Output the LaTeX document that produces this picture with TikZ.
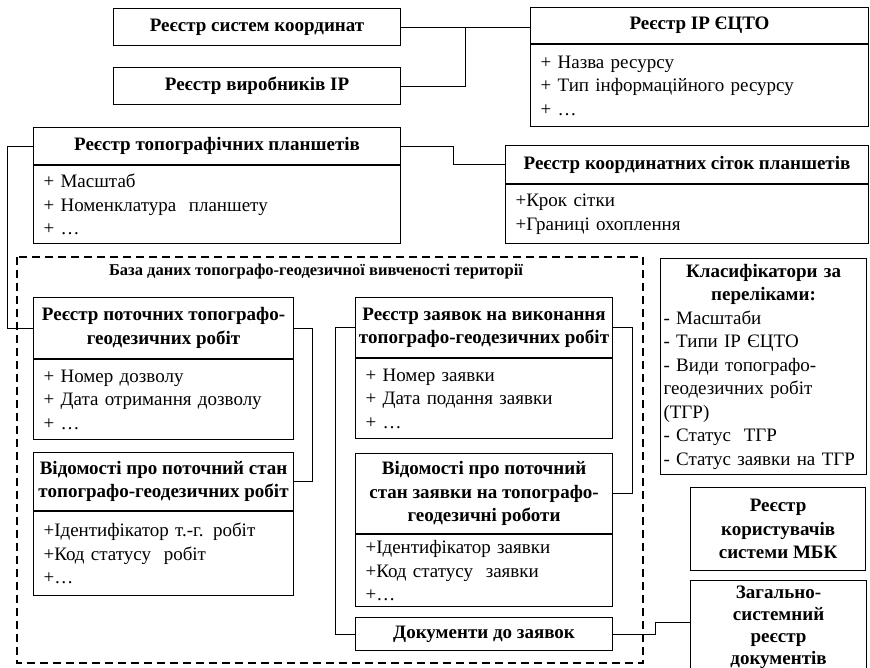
\documentclass[tikz,border=0pt]{standalone}
\usepackage{fontspec}
\setmainfont{Liberation Serif}
\newcommand{\boxfont}{\fontsize{19}{23.5}\selectfont}
\tikzset{
    head/.style = {
    	draw,
    	line width=1.1pt,
    	anchor=north west,
    	font=\boxfont\bfseries,
    	align=center,
    	inner sep=0pt
    },
    body/.style = {
    	draw,
    	line width=1.1pt,
    	anchor=north west,
    	font=\boxfont,
    	align=left,
    	inner xsep=10pt,
    	inner ysep=0pt,
    	text width=#1
    },
    link/.style = {
    	line width=0.8pt,
    	black
    },
    base/.style = {
    	line width=1.3pt,
    	dash pattern=on 8pt off 5pt
    }
}

\begin{document}
\begin{tikzpicture}[x=1pt, y=-1pt]

	\useasboundingbox (0,0) rectangle (870,667);

	% Coordenadas de las cajas
	\coordinate (SK) at (113,8);
	\coordinate (VR) at (113,67);
	\coordinate (IR) at (530,7);
	\coordinate (TP) at (33,127);
	\coordinate (KS) at (505,145);
	\coordinate (PR) at (33,297);
	\coordinate (VP) at (33,452);
	\coordinate (ZR) at (355,297);
	\coordinate (VZ) at (355,453);
	\coordinate (DZ) at (355,617);
	\coordinate (KL) at (660,258);
	\coordinate (KM) at (690,487);
	\coordinate (ZD) at (690,580);

	% Base de datos
	\coordinate (dbA) at (17,257);
	\coordinate (dbB) at (643,663);
	\draw[base] (dbA) rectangle (dbB);
	\node[font=\fontsize{16.5}{20}\selectfont\bfseries] (dbt) at (316,272) {База даних топографо-геодезичної вивченості території};

	% Registros
	\node[head, minimum width=287pt, minimum height=37pt] (sysk) at (SK) {Реєстр систем координат};
	\node[head, minimum width=287pt, minimum height=37pt] (vyrob) at (VR) {Реєстр виробників ІР};

	\node[head, minimum width=338pt, minimum height=36pt] (irrh) at (IR) {Реєстр ІР ЄЦТО};
	\node[body=318pt, minimum height=82pt] (irrb) at (irrh.south west) {+ Назва ресурсу\\+ Тип інформаційного ресурсу\\+ …};

	\node[head, minimum width=367pt, minimum height=37pt] (toph) at (TP) {Реєстр топографічних планшетів};
	\node[body=347pt, minimum height=78pt] (topb) at (toph.south west) {+ Масштаб\\+ Номенклатура~ планшету\\+ …};

	\node[head, minimum width=363pt, minimum height=38pt] (sitkyh) at (KS) {Реєстр координатних сіток планшетів};
	\node[body=343pt, minimum height=59pt] (sitkyb) at (sitkyh.south west) {+Крок сітки\\+Границі охоплення};

	\node[head, minimum width=260pt, minimum height=61pt] (potochh) at (PR) {Реєстр поточних топографо-\\геодезичних робіт};
	\node[body=240pt, minimum height=80pt] (potochb) at (potochh.south west) {+ Номер дозволу\\+ Дата отримання дозволу\\+ …};

	\node[head, minimum width=260pt, minimum height=58pt] (vidom1h) at (VP) {Відомості про поточний стан\\топографо-геодезичних робіт};
	\node[body=240pt, minimum height=84pt] (vidom1b) at (vidom1h.south west) {+Ідентифікатор т.-г. робіт\\+Код статусу~ робіт\\+…};

	\node[head, minimum width=257pt, minimum height=60pt] (zayavh) at (ZR) {Реєстр заявок на виконання\\топографо-геодезичних робіт};
	\node[body=237pt, minimum height=80pt] (zayavb) at (zayavh.south west) {+ Номер заявки\\+ Дата подання заявки\\+ …};

	\node[head, minimum width=257pt, minimum height=80pt] (vidom2h) at (VZ) {Відомості про поточний\\стан заявки на топографо-\\геодезичні роботи};
	\node[body=237pt, minimum height=72pt] (vidom2b) at (vidom2h.south west) {+Ідентифікатор заявки\\+Код статусу~ заявки\\+…};

	\node[head, minimum width=257pt, minimum height=33pt] (dok) at (DZ) {Документи до заявок};

	\node[draw, line width=1.1pt, anchor=north west, font=\boxfont, text width=200pt, inner xsep=3pt, minimum height=216pt] (klas) at (KL)
	{{\centering\bfseries Класифікатори за\\переліками:\par}\noindent - Масштаби\\- Типи ІР ЄЦТО\\- Види топографо-\\геодезичних робіт\\(ТГР)\\- Статус~ ТГР\\- Статус заявки на ТГР};

	\node[head, minimum width=175pt, minimum height=83pt] (korys) at (KM) {Реєстр\\користувачів\\системи МБК};
	\node[head, font=\fontsize{19}{22}\selectfont\bfseries, minimum width=176pt, minimum height=100pt, text depth=11pt] (zag) at (ZD) {Загально-\\системний\\реєстр\\документів};

	% Lineas de enlace
	\coordinate (j1) at (465,0);
	\coordinate (j2) at (7,0);
	\coordinate (j3) at (453,0);
	\coordinate (j4) at (312,0);
	\coordinate (j5) at (335,0);
	\coordinate (j6) at (632,0);
	\coordinate (j7) at (655,622);

	\draw[link] (sysk.east) -- (sysk.east -| irrh.west);
	\draw[link] (vyrob.east) -| (j1 |- sysk.east);
	\draw[link] (toph.west) -- (toph.west -| j2) |- (potochh.west);
	\draw[link] (toph.east) -- (toph.east -| j3) |- (sitkyh.west);
	\draw[link] (potochh.east) -- (potochh.east -| j4) |- (vidom1h.east);
	\draw[link] (zayavh.west) -- (zayavh.west -| j5) |- (dok.west);
	\draw[link] (zayavh.east) -- (zayavh.east -| j6) |- (vidom2h.east);
	\draw[link] (dok.east) -| (j7) -- (j7 -| zag.west);

\end{tikzpicture}
\end{document}
